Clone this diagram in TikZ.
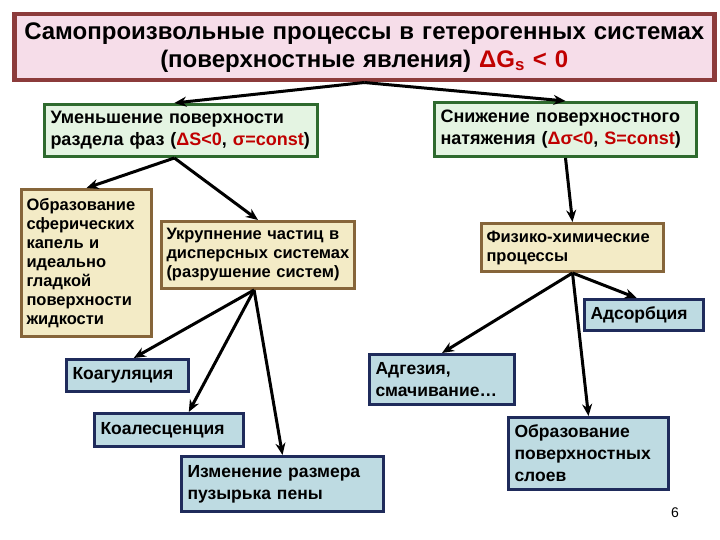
\documentclass[tikz,border=0pt]{standalone}
\usepackage{fontspec}
\setmainfont{Liberation Sans}
\usetikzlibrary{arrows.meta,calc}
\definecolor{titlefill}{HTML}{F6DDE9}
\definecolor{titleline}{HTML}{8C3B3B}
\definecolor{greenfill}{HTML}{E4F4E2}
\definecolor{greenline}{HTML}{2E6A2E}
\definecolor{sandfill}{HTML}{F3EBC6}
\definecolor{sandline}{HTML}{86653A}
\definecolor{bluefill}{HTML}{BEDBE2}
\definecolor{blueline}{HTML}{1F2B5B}
\definecolor{accent}{HTML}{C00000}

\begin{document}
\begin{tikzpicture}[x=1pt, y=-1pt,
    title/.style={rectangle, draw=titleline, line width=4.5pt, fill=titlefill, anchor=north west, text width=690pt, inner xsep=5pt, align=center, minimum height=66pt, font=\fontsize{24}{28}\selectfont\bfseries},
    phase/.style={rectangle, draw=greenline, line width=3pt, fill=greenfill, anchor=north west, inner xsep=6pt, align=left, font=\fontsize{18}{22}\selectfont\bfseries},
    effect/.style={rectangle, draw=sandline, line width=3pt, fill=sandfill, anchor=north west, inner xsep=5pt, align=left, font=\fontsize{16.5}{19}\selectfont\bfseries},
    result/.style={rectangle, draw=blueline, line width=3pt, fill=bluefill, anchor=north west, inner xsep=6pt, align=left, font=\fontsize{17.5}{22}\selectfont\bfseries},
    link/.style={line width=3pt, -{Stealth[length=12pt,width=10pt]}}
]
\useasboundingbox[fill=white] (0,0) rectangle (720,540);
\node[title] (ttl) at (12,12) {Самопроизвольные процессы в гетерогенных системах\\(поверхностные явления) {\color{accent}ΔG\textsubscript{s} < 0}};
\node[phase, text width=261pt, minimum height=52pt] (area) at (43,103) {Уменьшение поверхности\\раздела фаз ({\color{accent}ΔS<0}, {\color{accent}σ=const})};
\node[phase, text width=250pt, minimum height=54pt] (tension) at (433,101) {Снижение поверхностного\\натяжения ({\color{accent}Δσ<0}, {\color{accent}S=const})};
\node[effect, text width=120pt, minimum height=147pt] (drops) at (20,188) {Образование\\сферических\\капель и\\идеально\\гладкой\\поверхности\\жидкости};
\node[effect, text width=183pt, minimum height=67pt] (coarse) at (160,220) {Укрупнение частиц в\\дисперсных системах\\(разрушение систем)};
\node[effect, text width=172pt, minimum height=48pt] (physchem) at (480,222) {Физико-химические\\процессы};
\node[result, text width=107pt, minimum height=31pt] (adsorb) at (583,298) {Адсорбция};
\node[result, text width=110pt, minimum height=32pt] (coag) at (65,358) {Коагуляция};
\node[result, text width=137pt, minimum height=33pt] (coal) at (93,412) {Коалесценция};
\node[result, text width=190pt, minimum height=55pt] (foam) at (180,455) {Изменение размера\\пузырька пены};
\node[result, text width=133pt, minimum height=50pt] (adhes) at (368,353) {Адгезия,\\смачивание…};
\node[result, text width=148pt, minimum height=72pt] (layers) at (507,416) {Образование\\поверхностных\\слоев};
\node[font=\fontsize{14}{16}\selectfont] (page) at (675,513) {6};
\draw[link] (ttl.south) -- ($(area.north west)!0.476!(area.north east)$);
\draw[link] (ttl.south) -- (tension.north);
\draw[link] ($(area.south west)!0.476!(area.south east)$) -- (drops.north);
\draw[link] ($(area.south west)!0.476!(area.south east)$) -- (coarse.north);
\draw[link] (tension.south) -- (physchem.north);
\draw[link] ($(coarse.south west)!0.48!(coarse.south east)$) -- ($(coag.north west)!0.55!(coag.north east)$);
\draw[link] ($(coarse.south west)!0.48!(coarse.south east)$) -- ($(coal.north west)!0.63!(coal.north east)$);
\draw[link] ($(coarse.south west)!0.48!(coarse.south east)$) -- (foam.north);
\draw[link] (physchem.south) -- ($(adsorb.north west)!0.44!(adsorb.north east)$);
\draw[link] (physchem.south) -- (adhes.north);
\draw[link] (physchem.south) -- (layers.north);
\end{tikzpicture}
\end{document}
